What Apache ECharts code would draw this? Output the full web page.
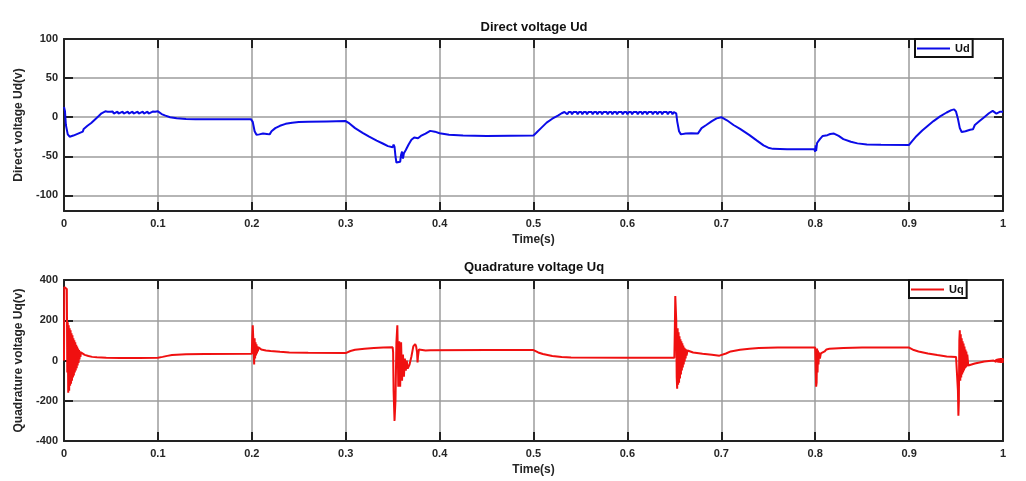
<!DOCTYPE html>
<html>
<head>
<meta charset="utf-8">
<title>Direct / Quadrature voltage</title>
<script src="https://cdn.jsdelivr.net/npm/echarts@6/dist/echarts.min.js"></script>
<style>
  html, body { margin: 0; padding: 0; background: #fff; }
  #chart { width: 1026px; height: 481px; }
</style>
</head>
<body>
<div id="chart"></div>
<script>
// x axis ticks (Time in s)
const timeTicks = [0, 0.1, 0.2, 0.3, 0.4, 0.5, 0.6, 0.7, 0.8, 0.9, 1]
const udTicks = [-100, -50, 0, 50, 100]
const uqTicks = [-400, -200, 0, 200, 400]

// Direct voltage Ud, [time, value]
const udData = [
  [0, 13], [0.001, 8], [0.002, -10], [0.004, -22], [0.006, -25], [0.01, -23.5], [0.015, -21],
  [0.02, -18.5], [0.021, -15], [0.025, -11], [0.029, -7.5], [0.033, -3], [0.037, 1.5], [0.04, 5], [0.044, 7.5],
  [0.0465, 7], [0.0475, 4.5], [0.049, 7], [0.052, 7.2], [0.053, 4.5], [0.0545, 7], [0.057, 7.2], [0.058, 4.5],
  [0.0595, 7], [0.0625, 7.2], [0.0635, 4.5], [0.065, 7], [0.068, 7.2], [0.069, 4.5], [0.0705, 7], [0.073, 7.2],
  [0.074, 4.5], [0.0755, 7], [0.0785, 7.2], [0.0795, 4.5], [0.081, 7], [0.084, 7.2], [0.085, 4.5], [0.0865, 7],
  [0.089, 7.2], [0.09, 4.5], [0.0915, 7], [0.0945, 7.2], [0.0955, 4.8], [0.097, 7], [0.1, 7.5],
  [0.104, 4], [0.108, 2], [0.113, 0], [0.12, -1.5], [0.13, -2.3], [0.14, -2.6], [0.15, -2.8], [0.16, -2.8],
  [0.17, -2.6], [0.18, -2.8], [0.19, -2.6], [0.199, -2.5],
  [0.201, -6], [0.203, -18], [0.205, -22.5], [0.208, -22], [0.212, -21], [0.216, -21.5], [0.219, -22],
  [0.221, -18], [0.225, -14], [0.23, -11], [0.236, -8.5], [0.243, -7], [0.25, -6.2], [0.26, -5.8], [0.28, -5.4], [0.3, -5],
  [0.304, -8], [0.31, -14], [0.318, -20], [0.325, -25], [0.333, -30], [0.34, -34], [0.345, -37], [0.35, -38.5],
  [0.351, -35], [0.352, -38], [0.353, -50], [0.354, -58], [0.356, -60], [0.358, -57], [0.359, -48], [0.36, -44],
  [0.361, -53], [0.362, -46], [0.364, -42], [0.367, -35], [0.37, -29], [0.373, -26], [0.375, -28.5], [0.377, -27],
  [0.38, -24], [0.385, -21], [0.39, -17.5], [0.395, -18.5], [0.4, -20.5], [0.41, -22.5], [0.425, -23.5], [0.45, -24], [0.5, -23.5],
  [0.503, -20], [0.508, -14], [0.514, -7], [0.52, -2], [0.526, 2], [0.53, 5], [0.533, 6.6],
  [0.535, 6.6], [0.536, 3.7], [0.5375, 6.5], [0.540, 6.6], [0.541, 3.7], [0.5425, 6.5], [0.546, 6.6], [0.547, 3.7],
  [0.5485, 6.5], [0.551, 6.6], [0.552, 3.7], [0.5535, 6.5], [0.556, 6.6], [0.557, 3.7], [0.5585, 6.5], [0.562, 6.6],
  [0.563, 3.7], [0.5645, 6.5], [0.567, 6.6], [0.568, 3.7], [0.5695, 6.5], [0.572, 6.6], [0.573, 3.7], [0.5745, 6.5],
  [0.578, 6.6], [0.579, 3.7], [0.5805, 6.5], [0.583, 6.6], [0.584, 3.7], [0.5855, 6.5], [0.588, 6.6], [0.589, 3.7],
  [0.5905, 6.5], [0.594, 6.6], [0.595, 3.7], [0.5965, 6.5], [0.599, 6.6], [0.600, 3.7], [0.6015, 6.5], [0.604, 6.6],
  [0.605, 3.7], [0.6065, 6.5], [0.610, 6.6], [0.611, 3.7], [0.6125, 6.5], [0.615, 6.6], [0.616, 3.7], [0.6175, 6.5],
  [0.620, 6.6], [0.621, 3.7], [0.6225, 6.5], [0.626, 6.6], [0.627, 3.7], [0.6285, 6.5], [0.631, 6.6], [0.632, 3.7],
  [0.6335, 6.5], [0.636, 6.6], [0.637, 3.7], [0.6385, 6.5], [0.642, 6.6], [0.643, 3.7], [0.6445, 6.5], [0.647, 6.6],
  [0.648, 3.7], [0.6495, 6.5], [0.651, 6.3],
  [0.652, 5], [0.653, -5], [0.655, -18], [0.657, -22], [0.662, -21], [0.668, -20.5], [0.675, -21], [0.677, -20],
  [0.679, -14], [0.684, -10], [0.69, -5], [0.695, -1.5], [0.7, 0], [0.702, -0.5], [0.706, -4], [0.713, -10],
  [0.72, -15], [0.73, -23], [0.738, -30], [0.745, -36], [0.75, -39], [0.755, -40.5], [0.77, -41], [0.799, -41],
  [0.8, -44], [0.8005, -36], [0.801, -43], [0.802, -33], [0.805, -28], [0.808, -24], [0.813, -23], [0.816, -21.5],
  [0.82, -21], [0.825, -24], [0.83, -28], [0.838, -31.5], [0.845, -33.5], [0.855, -34.8], [0.87, -35.3], [0.9, -35.5],
  [0.903, -31], [0.908, -24], [0.914, -17], [0.92, -11], [0.926, -5], [0.933, 1], [0.94, 6], [0.945, 9], [0.948, 10],
  [0.95, 7], [0.952, -2], [0.954, -14], [0.956, -19], [0.96, -18], [0.965, -16], [0.968, -15.5], [0.97, -10],
  [0.975, -5], [0.98, 0], [0.985, 5], [0.989, 8], [0.991, 7], [0.993, 4.5], [0.995, 6.5], [0.997, 7], [1, 7]
]

// Quadrature voltage Uq, [time, value]
const uqData = [
  [0, 0], [0.0003, 365], [0.002, 360], [0.003, 355], [0.0035, -60], [0.004, 190], [0.0045, -160], [0.005, 175],
  [0.0055, -150], [0.006, 160], [0.0065, -125], [0.007, 150], [0.0075, -115], [0.008, 135], [0.0085, -100],
  [0.009, 125], [0.0095, -85], [0.01, 110], [0.0105, -75], [0.011, 100], [0.0115, -60], [0.012, 90], [0.0125, -50],
  [0.013, 78], [0.0135, -38], [0.014, 70], [0.0145, -25], [0.015, 60], [0.0155, -12], [0.016, 52], [0.0165, 5],
  [0.017, 45], [0.0175, 18], [0.018, 40], [0.019, 35], [0.022, 28], [0.026, 22], [0.03, 18], [0.035, 16],
  [0.045, 14], [0.06, 13], [0.08, 13], [0.1, 14], [0.105, 18], [0.11, 23], [0.115, 27], [0.12, 29], [0.13, 31],
  [0.15, 32], [0.2, 33],
  [0.2005, 120], [0.201, 175], [0.2015, 170], [0.202, 60], [0.2025, -20], [0.203, 110], [0.2035, 10], [0.204, 90],
  [0.2045, 25], [0.205, 80], [0.2055, 35], [0.206, 70], [0.2065, 45], [0.207, 65], [0.208, 58], [0.21, 55],
  [0.215, 50], [0.22, 47], [0.23, 43], [0.24, 40], [0.26, 38], [0.3, 37],
  [0.305, 47], [0.31, 53], [0.32, 58], [0.33, 62], [0.34, 65], [0.35, 66],
  [0.3505, 40], [0.351, -150], [0.352, -300], [0.353, -200], [0.354, 90], [0.355, 175], [0.3555, 40], [0.356, -130],
  [0.357, 95], [0.358, -130], [0.359, 90], [0.36, -100], [0.361, 30], [0.362, -80], [0.363, 10], [0.364, -50],
  [0.365, 0], [0.366, -40], [0.368, -20], [0.37, 20], [0.372, 70], [0.374, 82], [0.375, 70], [0.376, 40],
  [0.3765, -10], [0.377, 20], [0.378, 55], [0.38, 52], [0.385, 50], [0.39, 51], [0.45, 52], [0.5, 52],
  [0.505, 40], [0.51, 32], [0.52, 22], [0.53, 17], [0.54, 15], [0.6, 14], [0.65, 14],
  [0.6505, 150], [0.651, 320], [0.6515, 325], [0.652, 200], [0.6525, -80], [0.653, -140], [0.6535, 160],
  [0.654, -120], [0.6545, 140], [0.655, -110], [0.6555, 120], [0.656, -90], [0.6565, 105], [0.657, -70],
  [0.6575, 95], [0.658, -50], [0.6585, 85], [0.659, -35], [0.6595, 75], [0.66, -20], [0.6605, 65], [0.661, -5],
  [0.6615, 60], [0.662, 10], [0.6625, 55], [0.663, 25], [0.664, 50], [0.666, 45], [0.67, 40], [0.68, 33],
  [0.69, 28], [0.698, 24], [0.7, 25], [0.705, 35], [0.71, 45], [0.72, 53], [0.73, 58], [0.74, 62], [0.76, 65], [0.8, 65],
  [0.8005, -40], [0.801, -130], [0.8015, -110], [0.802, 60], [0.8025, -60], [0.803, 50], [0.8035, -20], [0.804, 40],
  [0.805, 10], [0.806, 35], [0.808, 40], [0.81, 45], [0.812, 55], [0.814, 50], [0.815, 58], [0.82, 60], [0.83, 62],
  [0.85, 64], [0.9, 64],
  [0.905, 52], [0.91, 45], [0.92, 35], [0.93, 27], [0.94, 20], [0.95, 18],
  [0.951, 10], [0.952, -150], [0.9525, -275], [0.953, -200], [0.9535, 100], [0.954, 150], [0.9545, -100],
  [0.955, 130], [0.9555, -85], [0.956, 110], [0.9565, -70], [0.957, 95], [0.9575, -60], [0.958, 85], [0.9585, -50],
  [0.959, 70], [0.9595, -40], [0.96, 55], [0.9605, -35], [0.961, 45], [0.9615, -30], [0.962, 30], [0.963, -25],
  [0.965, -20], [0.97, -15], [0.975, -10], [0.98, -5], [0.985, -2], [0.99, 0],
  [0.9905, -3], [0.991, 3], [0.9915, -5], [0.992, 5], [0.9925, -7], [0.993, 7], [0.9935, -8], [0.994, 8],
  [0.9945, -9], [0.995, 9], [0.9955, -10], [0.996, 10], [0.9965, -11], [0.997, 11], [0.9975, -12], [0.998, 12],
  [0.9985, -12], [0.999, 12], [0.9995, -12], [1, 10]
]

const chart = echarts.init(document.getElementById('chart'))

const FONT = 'Liberation Sans, Arial, sans-serif'
const textColor = '#262626'
const gridColor = '#9c9c9c'
const frameColor = '#222'

// 横轴：底部带标签，顶部只画边框和刻度
const makeXAxis = (gridIndex, showLabels) => ({
  gridIndex,
  type: 'value',
  min: 0,
  max: 1,
  interval: 0.1,
  position: showLabels ? 'bottom' : 'top',
  name: showLabels ? 'Time(s)' : '',
  nameLocation: 'middle',
  nameGap: 23,
  nameTextStyle: { fontFamily: FONT, fontWeight: 'bold', fontSize: 12, color: textColor },
  axisLine: { show: true, onZero: false, lineStyle: { color: frameColor, width: 2 } },
  axisTick: { show: true, inside: true, length: 9, lineStyle: { color: frameColor, width: 2 } },
  axisLabel: {
    show: showLabels,
    margin: 7,
    fontFamily: FONT, fontWeight: 'bold', fontSize: 11, color: textColor,
    formatter: v => timeTicks.includes(Math.round(v * 10) / 10) ? String(Math.round(v * 10) / 10) : ''
  },
  splitLine: { show: showLabels, lineStyle: { color: gridColor, width: 1.5 } }
})

// 纵轴：左侧带标签，右侧只画边框和刻度
const makeYAxis = (gridIndex, showLabels, min, max, ticks, name) => ({
  gridIndex,
  type: 'value',
  min,
  max,
  position: showLabels ? 'left' : 'right',
  name: showLabels ? name : '',
  nameLocation: 'middle',
  nameGap: 37,
  nameTextStyle: { fontFamily: FONT, fontWeight: 'bold', fontSize: 12, color: textColor },
  axisLine: { show: true, onZero: false, lineStyle: { color: frameColor, width: 2 } },
  axisTick: { show: true, inside: true, length: 9, customValues: ticks, lineStyle: { color: frameColor, width: 2 } },
  axisLabel: {
    show: showLabels,
    margin: 6,
    customValues: ticks,
    fontFamily: FONT, fontWeight: 'bold', fontSize: 11, color: textColor
  },
  splitLine: { show: showLabels, lineStyle: { color: gridColor, width: 1.5 } }
})

const legendStyle = {
  orient: 'horizontal',
  backgroundColor: '#fff',
  borderColor: '#111',
  borderWidth: 2,
  borderRadius: 0,
  padding: [3, 3, 2, 2],
  itemWidth: 33,
  itemHeight: 2,
  itemGap: 0,
  itemTextGap: 2,
  icon: 'rect',
  textStyle: { fontFamily: FONT, fontWeight: 'bold', fontSize: 11, color: '#111', lineHeight: 13 }
}

const option = {
  animation: false,
  backgroundColor: '#fff',
  title: [
    {
      text: 'Direct voltage Ud', left: 534, top: 21, textAlign: 'center', padding: 0,
      textStyle: { fontFamily: FONT, fontWeight: 'bold', fontSize: 13, color: '#111' }
    },
    {
      text: 'Quadrature voltage Uq', left: 534, top: 261, textAlign: 'center', padding: 0,
      textStyle: { fontFamily: FONT, fontWeight: 'bold', fontSize: 13, color: '#111' }
    }
  ],
  legend: [
    { ...legendStyle, data: ['Ud'], left: 915, top: 39 },
    { ...legendStyle, data: ['Uq'], left: 909, top: 280 }
  ],
  grid: [
    { left: 64, right: 23, top: 39, height: 172 },
    { left: 64, right: 23, top: 280, height: 161 }
  ],
  xAxis: [
    makeXAxis(0, true),
    makeXAxis(0, false),
    makeXAxis(1, true),
    makeXAxis(1, false)
  ],
  yAxis: [
    makeYAxis(0, true, -120, 100, udTicks, 'Direct voltage Ud(v)'),
    makeYAxis(0, false, -120, 100, udTicks, ''),
    makeYAxis(1, true, -400, 400, uqTicks, 'Quadrature voltage Uq(v)'),
    makeYAxis(1, false, -400, 400, uqTicks, '')
  ],
  series: [
    {
      name: 'Ud',
      type: 'line',
      xAxisIndex: 0,
      yAxisIndex: 0,
      data: udData,
      showSymbol: false,
      symbol: 'none',
      lineStyle: { color: '#0b0be8', width: 2 },
      itemStyle: { color: '#0b0be8' }
    },
    {
      name: 'Uq',
      type: 'line',
      xAxisIndex: 2,
      yAxisIndex: 2,
      data: uqData,
      showSymbol: false,
      symbol: 'none',
      lineStyle: { color: '#f01010', width: 2 },
      itemStyle: { color: '#f01010' }
    }
  ]
}

chart.setOption(option)
</script>
</body>
</html>
